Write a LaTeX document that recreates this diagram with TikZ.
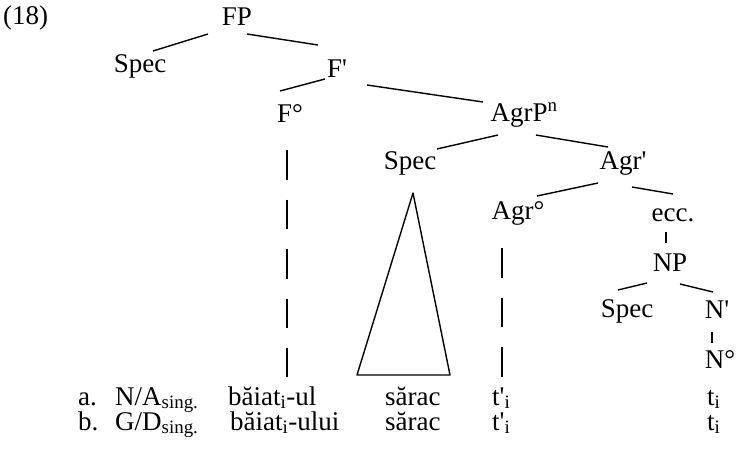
\documentclass[tikz,border=0pt]{standalone}
\usepackage{fontspec}
\setmainfont{Liberation Serif}

\begin{document}
\begin{tikzpicture}[x=1pt, y=-1pt,
    every node/.style={font=\fontsize{27}{29}\selectfont, inner sep=1pt, anchor=base},
    word/.style={anchor=base west, inner sep=0pt},
    branch/.style={line width=1.4pt},
    trace/.style={line width=1.4pt, dash pattern=on 29.5pt off 20pt}]
    \useasboundingbox (0,0) rectangle (738,450);

    \node[word] (exnum) at (3,24) {(18)};

    % tree
    \node (FP) at (237,25) {FP};
    \node (spec1) at (140,72) {Spec};
    \node (Fbar) at (337,77) {F\textquotesingle};
    \node (Fzero) at (290,122) {F°};
    \node (AgrP) at (524,121) {AgrP\textsuperscript{n}};
    \node (spec2) at (410,169) {Spec};
    \node (Agrbar) at (623,169) {Agr\textquotesingle};
    \node (Agrzero) at (518,219) {Agr°};
    \node (ecc) at (673,221) {ecc.};
    \node (NP) at (670,271) {NP};
    \node (spec3) at (627,317) {Spec};
    \node (Nbar) at (717,318) {N\textquotesingle};
    \node (Nzero) at (720,368) {N°};

    % examples
    \node[word] (labA) at (78,405) {a.};
    \node[word] (caseA) at (115,405) {N/A\textsubscript{sing.}};
    \node[word] (nounA) at (228,405) {băiat\textsubscript{i}-ul};
    \node[word] (adjA) at (385,405) {sărac};
    \node[word] (traceA) at (492,405) {t\textquotesingle\textsubscript{i}};
    \node[word] (headA) at (707,405) {t\textsubscript{i}};

    \node[word] (labB) at (78,430) {b.};
    \node[word] (caseB) at (115,430) {G/D\textsubscript{sing.}};
    \node[word] (nounB) at (230,430) {băiat\textsubscript{i}-ului};
    \node[word] (adjB) at (385,430) {sărac};
    \node[word] (traceB) at (492,430) {t\textquotesingle\textsubscript{i}};
    \node[word] (headB) at (707,430) {t\textsubscript{i}};

    % branches
    \draw[branch] ([shift={(-29,9)}]FP.base) -- ([shift={(13,-21)}]spec1.base);
    \draw[branch] ([shift={(10,9)}]FP.base) -- ([shift={(-19,-32)}]Fbar.base);
    \draw[branch] ([shift={(-12,2)}]Fbar.base) -- ([shift={(-10,-31)}]Fzero.base);
    \draw[branch] ([shift={(30,8)}]Fbar.base) -- ([shift={(-41,-19)}]AgrP.base);
    \draw[branch] ([shift={(-26,14)}]AgrP.base) -- ([shift={(27,-20)}]spec2.base);
    \draw[branch] ([shift={(12,14)}]AgrP.base) -- ([shift={(-15,-22)}]Agrbar.base);
    \draw[branch] ([shift={(-25,14)}]Agrbar.base) -- ([shift={(19,-23)}]Agrzero.base);
    \draw[branch] ([shift={(9,18)}]Agrbar.base) -- ([shift={(0,-27)}]ecc.base);
    \draw[branch] ([shift={(-7,11)}]ecc.base) -- ([shift={(-4,-28)}]NP.base);
    \draw[branch] ([shift={(-23,12)}]NP.base) -- ([shift={(-9,-27)}]spec3.base);
    \draw[branch] ([shift={(10,13)}]NP.base) -- ([shift={(-4,-26)}]Nbar.base);
    \draw[branch] ([shift={(-5,14)}]Nbar.base) -- ([shift={(-8,-25)}]Nzero.base);

    % traces
    \draw[trace] ([shift={(-3,28)}]Fzero.base) -- ([shift={(59,-28)}]nounA.base west);
    \draw[trace] ([shift={(-16,29)}]Agrzero.base) -- ([shift={(10,-28)}]traceA.base west);

    % triangle
    \draw[branch, line join=round] ([shift={(3,24)}]spec2.base) -- ([shift={(-28,-30)}]adjA.base west)
        -- ([shift={(65,-30)}]adjA.base west) -- cycle;
\end{tikzpicture}
\end{document}
